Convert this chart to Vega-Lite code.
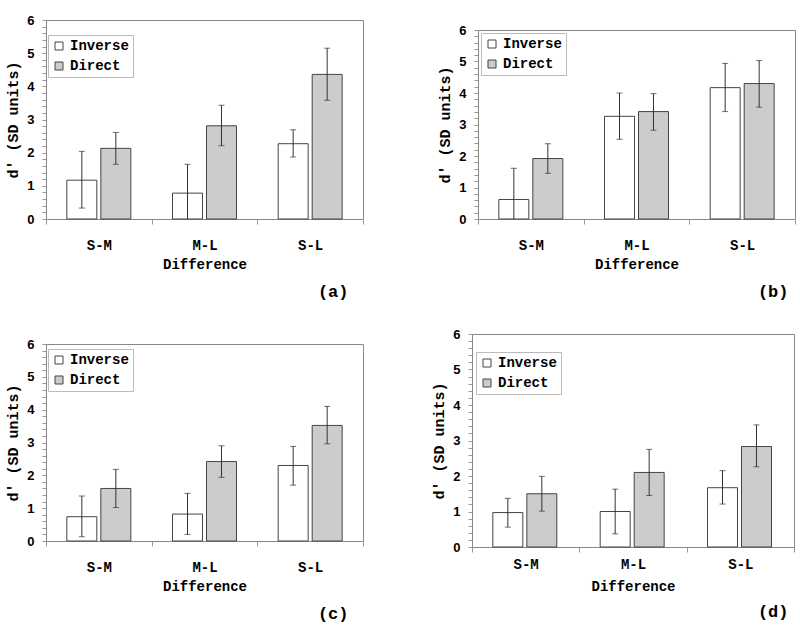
{
"$schema":"https://vega.github.io/schema/vega-lite/v6.json",
"padding":{"left":5,"top":13,"right":2,"bottom":5},
"background":"white",
"config":{
 "font":"Liberation Mono",
 "view":{"stroke":"#888"},
 "axis":{"labelFont":"Liberation Mono","labelFontWeight":"bold","labelFontSize":14,"labelColor":"#000","titleFont":"Liberation Mono","titleFontWeight":"bold","titleFontSize":14,"titleColor":"#000","domainColor":"#888","tickColor":"#999","grid":false},
 "title":{"font":"Liberation Mono","fontWeight":"bold","fontSize":17,"color":"#000"},
 "legend":{"title":null,"orient":"none","strokeColor":"#bbb","fillColor":"white","padding":4,"symbolType":"square","symbolSize":64,"symbolStrokeColor":"#444","symbolStrokeWidth":1,"labelFont":"Liberation Mono","labelFontWeight":"bold","labelFontSize":14,"labelColor":"#000","rowPadding":6,"labelOffset":4}
},
"resolve":{"scale":{"color":"independent"},"legend":{"color":"independent"}},
"spacing":26,
"vconcat":[
{"spacing":73,
 "resolve":{"scale":{"color":"independent"},"legend":{"color":"independent"}},
 "hconcat":[
 {"width":317,"height":199,
  "title":{"text":"(a)","orient":"bottom","anchor":"end","dx":-15,"offset":13},
  "data":{"values":[
   {"diff":"S-M","cond":"Inverse","d":1.17,"lo":0.33,"hi":2.04},
   {"diff":"S-M","cond":"Direct","d":2.13,"lo":1.65,"hi":2.61},
   {"diff":"M-L","cond":"Inverse","d":0.78,"lo":-0.09,"hi":1.65},
   {"diff":"M-L","cond":"Direct","d":2.81,"lo":2.21,"hi":3.43},
   {"diff":"S-L","cond":"Inverse","d":2.27,"lo":1.87,"hi":2.69},
   {"diff":"S-L","cond":"Direct","d":4.36,"lo":3.58,"hi":5.15}]},
  "encoding":{
   "x":{"field":"diff","type":"nominal","sort":["S-M","M-L","S-L"],"scale":{"paddingInner":0,"paddingOuter":0},"axis":{"title":"Difference","labelAngle":0,"labelPadding":14,"titlePadding":5,"tickBand":"extent","tickSize":5}},
   "xOffset":{"field":"cond","type":"nominal","sort":["Inverse","Direct"],"scale":{"paddingInner":0.118,"paddingOuter":0.613}}
  },
  "layer":[
   {"mark":{"type":"bar","stroke":"#444","strokeWidth":1},
    "encoding":{
     "y":{"field":"d","type":"quantitative","scale":{"domain":[0,6],"nice":false},"axis":{"title":"d' (SD units)","titleFontSize":15,"values":[0,0.2,0.4,0.6,0.8,1,1.2,1.4,1.6,1.8,2,2.2,2.4,2.6,2.8,3,3.2,3.4,3.6,3.8,4,4.2,4.4,4.6,4.8,5,5.2,5.4,5.6,5.8,6],"labelExpr":"datum.value % 1 == 0 ? format(datum.value, 'd') : ''","labelFont":"Liberation Sans","labelFontSize":13,"tickSize":4,"labelPadding":8,"labelOverlap":false,"titlePadding":6}},
     "color":{"field":"cond","type":"nominal","sort":["Inverse","Direct"],"scale":{"domain":["Inverse","Direct"],"range":["#ffffff","#cccccc"]},"legend":{"legendX":2,"legendY":15}}}},
   {"mark":{"type":"rule","clip":true,"color":"#333"},"encoding":{"y":{"field":"lo","type":"quantitative","scale":{"domain":[0,6],"nice":false},"axis":{"title":"d' (SD units)","titleFontSize":15,"values":[0,0.2,0.4,0.6,0.8,1,1.2,1.4,1.6,1.8,2,2.2,2.4,2.6,2.8,3,3.2,3.4,3.6,3.8,4,4.2,4.4,4.6,4.8,5,5.2,5.4,5.6,5.8,6],"labelExpr":"datum.value % 1 == 0 ? format(datum.value, 'd') : ''","labelFont":"Liberation Sans","labelFontSize":13,"tickSize":4,"labelPadding":8,"labelOverlap":false,"titlePadding":6}},"y2":{"field":"hi"}}},
   {"mark":{"type":"tick","clip":true,"color":"#333","size":6,"thickness":1},"encoding":{"y":{"field":"lo","type":"quantitative","scale":{"domain":[0,6],"nice":false},"axis":{"title":"d' (SD units)","titleFontSize":15,"values":[0,0.2,0.4,0.6,0.8,1,1.2,1.4,1.6,1.8,2,2.2,2.4,2.6,2.8,3,3.2,3.4,3.6,3.8,4,4.2,4.4,4.6,4.8,5,5.2,5.4,5.6,5.8,6],"labelExpr":"datum.value % 1 == 0 ? format(datum.value, 'd') : ''","labelFont":"Liberation Sans","labelFontSize":13,"tickSize":4,"labelPadding":8,"labelOverlap":false,"titlePadding":6}}}},
   {"mark":{"type":"tick","color":"#333","size":6,"thickness":1},"encoding":{"y":{"field":"hi","type":"quantitative","scale":{"domain":[0,6],"nice":false},"axis":{"title":"d' (SD units)","titleFontSize":15,"values":[0,0.2,0.4,0.6,0.8,1,1.2,1.4,1.6,1.8,2,2.2,2.4,2.6,2.8,3,3.2,3.4,3.6,3.8,4,4.2,4.4,4.6,4.8,5,5.2,5.4,5.6,5.8,6],"labelExpr":"datum.value % 1 == 0 ? format(datum.value, 'd') : ''","labelFont":"Liberation Sans","labelFontSize":13,"tickSize":4,"labelPadding":8,"labelOverlap":false,"titlePadding":6}}}}
  ]},
 {"spacing":2,
  "vconcat":[
 {"width":317,"height":1,"data":{"values":[]},"view":{"stroke":null},"mark":{"type":"rule"},"encoding":{}},
 {"width":317,"height":189,
  "title":{"text":"(b)","orient":"bottom","anchor":"end","dx":-7,"offset":13},
  "data":{"values":[
   {"diff":"S-M","cond":"Inverse","d":0.62,"lo":-0.37,"hi":1.61},
   {"diff":"S-M","cond":"Direct","d":1.92,"lo":1.45,"hi":2.39},
   {"diff":"M-L","cond":"Inverse","d":3.26,"lo":2.53,"hi":4.0},
   {"diff":"M-L","cond":"Direct","d":3.41,"lo":2.82,"hi":3.98},
   {"diff":"S-L","cond":"Inverse","d":4.17,"lo":3.41,"hi":4.94},
   {"diff":"S-L","cond":"Direct","d":4.3,"lo":3.55,"hi":5.03}]},
  "encoding":{
   "x":{"field":"diff","type":"nominal","sort":["S-M","M-L","S-L"],"scale":{"paddingInner":0,"paddingOuter":0},"axis":{"title":"Difference","labelAngle":0,"labelPadding":14,"titlePadding":5,"tickBand":"extent","tickSize":5}},
   "xOffset":{"field":"cond","type":"nominal","sort":["Inverse","Direct"],"scale":{"paddingInner":0.118,"paddingOuter":0.613}}
  },
  "layer":[
   {"mark":{"type":"bar","stroke":"#444","strokeWidth":1},
    "encoding":{
     "y":{"field":"d","type":"quantitative","scale":{"domain":[0,6],"nice":false},"axis":{"title":"d' (SD units)","titleFontSize":15,"values":[0,0.2,0.4,0.6,0.8,1,1.2,1.4,1.6,1.8,2,2.2,2.4,2.6,2.8,3,3.2,3.4,3.6,3.8,4,4.2,4.4,4.6,4.8,5,5.2,5.4,5.6,5.8,6],"labelExpr":"datum.value % 1 == 0 ? format(datum.value, 'd') : ''","labelFont":"Liberation Sans","labelFontSize":13,"tickSize":4,"labelPadding":8,"labelOverlap":false,"titlePadding":6}},
     "color":{"field":"cond","type":"nominal","sort":["Inverse","Direct"],"scale":{"domain":["Inverse","Direct"],"range":["#ffffff","#cccccc"]},"legend":{"legendX":3,"legendY":13}}}},
   {"mark":{"type":"rule","clip":true,"color":"#333"},"encoding":{"y":{"field":"lo","type":"quantitative","scale":{"domain":[0,6],"nice":false},"axis":{"title":"d' (SD units)","titleFontSize":15,"values":[0,0.2,0.4,0.6,0.8,1,1.2,1.4,1.6,1.8,2,2.2,2.4,2.6,2.8,3,3.2,3.4,3.6,3.8,4,4.2,4.4,4.6,4.8,5,5.2,5.4,5.6,5.8,6],"labelExpr":"datum.value % 1 == 0 ? format(datum.value, 'd') : ''","labelFont":"Liberation Sans","labelFontSize":13,"tickSize":4,"labelPadding":8,"labelOverlap":false,"titlePadding":6}},"y2":{"field":"hi"}}},
   {"mark":{"type":"tick","clip":true,"color":"#333","size":6,"thickness":1},"encoding":{"y":{"field":"lo","type":"quantitative","scale":{"domain":[0,6],"nice":false},"axis":{"title":"d' (SD units)","titleFontSize":15,"values":[0,0.2,0.4,0.6,0.8,1,1.2,1.4,1.6,1.8,2,2.2,2.4,2.6,2.8,3,3.2,3.4,3.6,3.8,4,4.2,4.4,4.6,4.8,5,5.2,5.4,5.6,5.8,6],"labelExpr":"datum.value % 1 == 0 ? format(datum.value, 'd') : ''","labelFont":"Liberation Sans","labelFontSize":13,"tickSize":4,"labelPadding":8,"labelOverlap":false,"titlePadding":6}}}},
   {"mark":{"type":"tick","color":"#333","size":6,"thickness":1},"encoding":{"y":{"field":"hi","type":"quantitative","scale":{"domain":[0,6],"nice":false},"axis":{"title":"d' (SD units)","titleFontSize":15,"values":[0,0.2,0.4,0.6,0.8,1,1.2,1.4,1.6,1.8,2,2.2,2.4,2.6,2.8,3,3.2,3.4,3.6,3.8,4,4.2,4.4,4.6,4.8,5,5.2,5.4,5.6,5.8,6],"labelExpr":"datum.value % 1 == 0 ? format(datum.value, 'd') : ''","labelFont":"Liberation Sans","labelFontSize":13,"tickSize":4,"labelPadding":8,"labelOverlap":false,"titlePadding":6}}}}
  ]}
 ]}
 ]},
{"spacing":67,
 "resolve":{"scale":{"color":"independent"},"legend":{"color":"independent"}},
 "hconcat":[
 {"spacing":2,
  "vconcat":[
 {"width":317,"height":1,"data":{"values":[]},"view":{"stroke":null},"mark":{"type":"rule"},"encoding":{}},
 {"width":317,"height":197,
  "title":{"text":"(c)","orient":"bottom","anchor":"end","dx":-15,"offset":13},
  "data":{"values":[
   {"diff":"S-M","cond":"Inverse","d":0.74,"lo":0.13,"hi":1.37},
   {"diff":"S-M","cond":"Direct","d":1.6,"lo":1.02,"hi":2.18},
   {"diff":"M-L","cond":"Inverse","d":0.82,"lo":0.2,"hi":1.45},
   {"diff":"M-L","cond":"Direct","d":2.42,"lo":1.94,"hi":2.9},
   {"diff":"S-L","cond":"Inverse","d":2.3,"lo":1.7,"hi":2.88},
   {"diff":"S-L","cond":"Direct","d":3.52,"lo":2.96,"hi":4.1}]},
  "encoding":{
   "x":{"field":"diff","type":"nominal","sort":["S-M","M-L","S-L"],"scale":{"paddingInner":0,"paddingOuter":0},"axis":{"title":"Difference","labelAngle":0,"labelPadding":14,"titlePadding":5,"tickBand":"extent","tickSize":5}},
   "xOffset":{"field":"cond","type":"nominal","sort":["Inverse","Direct"],"scale":{"paddingInner":0.118,"paddingOuter":0.613}}
  },
  "layer":[
   {"mark":{"type":"bar","stroke":"#444","strokeWidth":1},
    "encoding":{
     "y":{"field":"d","type":"quantitative","scale":{"domain":[0,6],"nice":false},"axis":{"title":"d' (SD units)","titleFontSize":15,"values":[0,0.2,0.4,0.6,0.8,1,1.2,1.4,1.6,1.8,2,2.2,2.4,2.6,2.8,3,3.2,3.4,3.6,3.8,4,4.2,4.4,4.6,4.8,5,5.2,5.4,5.6,5.8,6],"labelExpr":"datum.value % 1 == 0 ? format(datum.value, 'd') : ''","labelFont":"Liberation Sans","labelFontSize":13,"tickSize":4,"labelPadding":8,"labelOverlap":false,"titlePadding":6}},
     "color":{"field":"cond","type":"nominal","sort":["Inverse","Direct"],"scale":{"domain":["Inverse","Direct"],"range":["#ffffff","#cccccc"]},"legend":{"legendX":2,"legendY":15}}}},
   {"mark":{"type":"rule","clip":true,"color":"#333"},"encoding":{"y":{"field":"lo","type":"quantitative","scale":{"domain":[0,6],"nice":false},"axis":{"title":"d' (SD units)","titleFontSize":15,"values":[0,0.2,0.4,0.6,0.8,1,1.2,1.4,1.6,1.8,2,2.2,2.4,2.6,2.8,3,3.2,3.4,3.6,3.8,4,4.2,4.4,4.6,4.8,5,5.2,5.4,5.6,5.8,6],"labelExpr":"datum.value % 1 == 0 ? format(datum.value, 'd') : ''","labelFont":"Liberation Sans","labelFontSize":13,"tickSize":4,"labelPadding":8,"labelOverlap":false,"titlePadding":6}},"y2":{"field":"hi"}}},
   {"mark":{"type":"tick","clip":true,"color":"#333","size":6,"thickness":1},"encoding":{"y":{"field":"lo","type":"quantitative","scale":{"domain":[0,6],"nice":false},"axis":{"title":"d' (SD units)","titleFontSize":15,"values":[0,0.2,0.4,0.6,0.8,1,1.2,1.4,1.6,1.8,2,2.2,2.4,2.6,2.8,3,3.2,3.4,3.6,3.8,4,4.2,4.4,4.6,4.8,5,5.2,5.4,5.6,5.8,6],"labelExpr":"datum.value % 1 == 0 ? format(datum.value, 'd') : ''","labelFont":"Liberation Sans","labelFontSize":13,"tickSize":4,"labelPadding":8,"labelOverlap":false,"titlePadding":6}}}},
   {"mark":{"type":"tick","color":"#333","size":6,"thickness":1},"encoding":{"y":{"field":"hi","type":"quantitative","scale":{"domain":[0,6],"nice":false},"axis":{"title":"d' (SD units)","titleFontSize":15,"values":[0,0.2,0.4,0.6,0.8,1,1.2,1.4,1.6,1.8,2,2.2,2.4,2.6,2.8,3,3.2,3.4,3.6,3.8,4,4.2,4.4,4.6,4.8,5,5.2,5.4,5.6,5.8,6],"labelExpr":"datum.value % 1 == 0 ? format(datum.value, 'd') : ''","labelFont":"Liberation Sans","labelFontSize":13,"tickSize":4,"labelPadding":8,"labelOverlap":false,"titlePadding":6}}}}
  ]}
 ]},
 {"width":322,"height":213,
  "title":{"text":"(d)","orient":"bottom","anchor":"end","dx":-6,"offset":11},
  "data":{"values":[
   {"diff":"S-M","cond":"Inverse","d":0.97,"lo":0.56,"hi":1.37},
   {"diff":"S-M","cond":"Direct","d":1.5,"lo":1.01,"hi":1.99},
   {"diff":"M-L","cond":"Inverse","d":1.0,"lo":0.37,"hi":1.63},
   {"diff":"M-L","cond":"Direct","d":2.1,"lo":1.45,"hi":2.75},
   {"diff":"S-L","cond":"Inverse","d":1.67,"lo":1.21,"hi":2.15},
   {"diff":"S-L","cond":"Direct","d":2.83,"lo":2.26,"hi":3.44}]},
  "encoding":{
   "x":{"field":"diff","type":"nominal","sort":["S-M","M-L","S-L"],"scale":{"paddingInner":0,"paddingOuter":0},"axis":{"title":"Difference","labelAngle":0,"labelPadding":5,"titlePadding":8,"tickBand":"extent","tickSize":5}},
   "xOffset":{"field":"cond","type":"nominal","sort":["Inverse","Direct"],"scale":{"paddingInner":0.118,"paddingOuter":0.613}}
  },
  "layer":[
   {"mark":{"type":"bar","stroke":"#444","strokeWidth":1},
    "encoding":{
     "y":{"field":"d","type":"quantitative","scale":{"domain":[0,6],"nice":false},"axis":{"title":"d' (SD units)","titleFontSize":15,"values":[0,0.2,0.4,0.6,0.8,1,1.2,1.4,1.6,1.8,2,2.2,2.4,2.6,2.8,3,3.2,3.4,3.6,3.8,4,4.2,4.4,4.6,4.8,5,5.2,5.4,5.6,5.8,6],"labelExpr":"datum.value % 1 == 0 ? format(datum.value, 'd') : ''","labelFont":"Liberation Sans","labelFontSize":13,"tickSize":4,"labelPadding":8,"labelOverlap":false,"titlePadding":6}},
     "color":{"field":"cond","type":"nominal","sort":["Inverse","Direct"],"scale":{"domain":["Inverse","Direct"],"range":["#ffffff","#cccccc"]},"legend":{"legendX":4,"legendY":18}}}},
   {"mark":{"type":"rule","clip":true,"color":"#333"},"encoding":{"y":{"field":"lo","type":"quantitative","scale":{"domain":[0,6],"nice":false},"axis":{"title":"d' (SD units)","titleFontSize":15,"values":[0,0.2,0.4,0.6,0.8,1,1.2,1.4,1.6,1.8,2,2.2,2.4,2.6,2.8,3,3.2,3.4,3.6,3.8,4,4.2,4.4,4.6,4.8,5,5.2,5.4,5.6,5.8,6],"labelExpr":"datum.value % 1 == 0 ? format(datum.value, 'd') : ''","labelFont":"Liberation Sans","labelFontSize":13,"tickSize":4,"labelPadding":8,"labelOverlap":false,"titlePadding":6}},"y2":{"field":"hi"}}},
   {"mark":{"type":"tick","clip":true,"color":"#333","size":6,"thickness":1},"encoding":{"y":{"field":"lo","type":"quantitative","scale":{"domain":[0,6],"nice":false},"axis":{"title":"d' (SD units)","titleFontSize":15,"values":[0,0.2,0.4,0.6,0.8,1,1.2,1.4,1.6,1.8,2,2.2,2.4,2.6,2.8,3,3.2,3.4,3.6,3.8,4,4.2,4.4,4.6,4.8,5,5.2,5.4,5.6,5.8,6],"labelExpr":"datum.value % 1 == 0 ? format(datum.value, 'd') : ''","labelFont":"Liberation Sans","labelFontSize":13,"tickSize":4,"labelPadding":8,"labelOverlap":false,"titlePadding":6}}}},
   {"mark":{"type":"tick","color":"#333","size":6,"thickness":1},"encoding":{"y":{"field":"hi","type":"quantitative","scale":{"domain":[0,6],"nice":false},"axis":{"title":"d' (SD units)","titleFontSize":15,"values":[0,0.2,0.4,0.6,0.8,1,1.2,1.4,1.6,1.8,2,2.2,2.4,2.6,2.8,3,3.2,3.4,3.6,3.8,4,4.2,4.4,4.6,4.8,5,5.2,5.4,5.6,5.8,6],"labelExpr":"datum.value % 1 == 0 ? format(datum.value, 'd') : ''","labelFont":"Liberation Sans","labelFontSize":13,"tickSize":4,"labelPadding":8,"labelOverlap":false,"titlePadding":6}}}}
  ]}
 ]}
]
}
